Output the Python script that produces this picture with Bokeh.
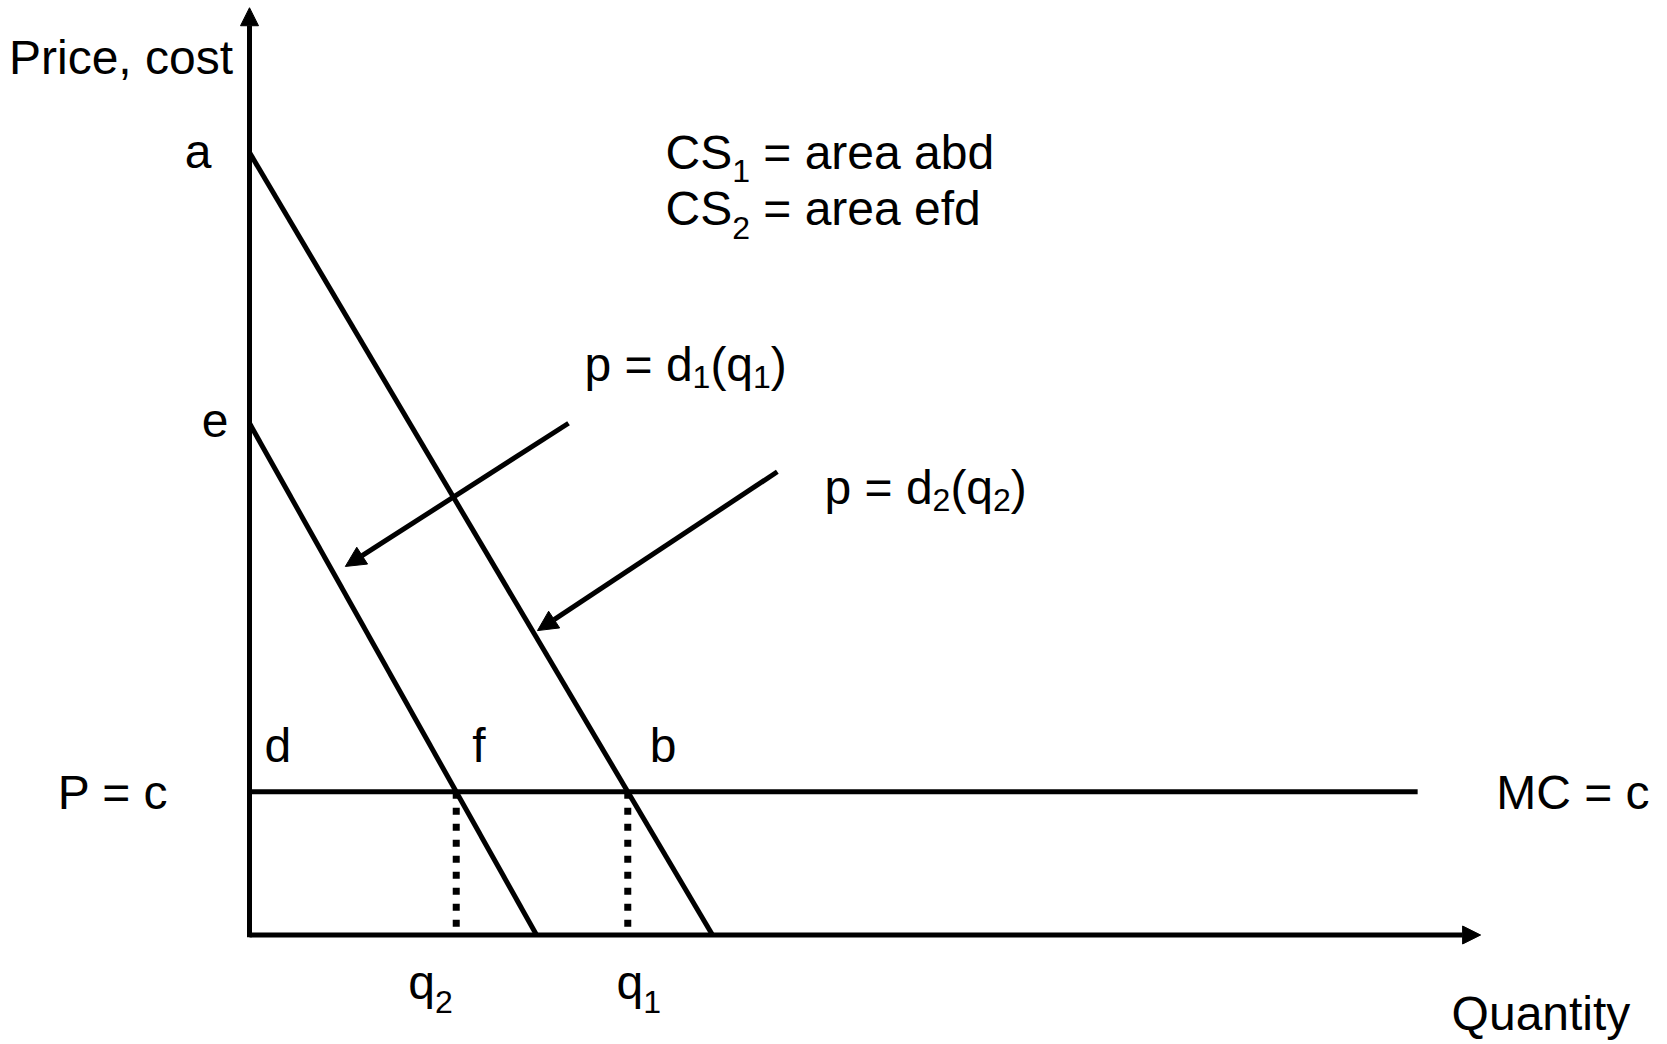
from bokeh.plotting import figure
from bokeh.models import Range1d, Arrow, NormalHead
from bokeh.embed import file_html
from bokeh.resources import INLINE
from bokeh.core.properties import value

# ---------------- data ----------------
choke_prices = [10.0, 6.54]        # a (demand 1), e (demand 2)
max_quantities = [10.0, 6.2]       # quantity intercepts of demand 1 and demand 2
marginal_cost = 1.83               # P = MC = c
mc_line_end = 25.23                # where the MC line stops
axis_ends = [26.59, 11.85]         # quantity axis end, price axis end
pointer_starts_x = [6.89, 11.40]
pointer_starts_y = [6.54, 5.92]
pointer_ends_x = [2.07, 6.22]
pointer_ends_y = [4.71, 3.89]

# equilibrium quantities where each demand meets MC
q_star = [qm * (1 - marginal_cost / pm) for qm, pm in zip(max_quantities, choke_prices)]
q1_star, q2_star = q_star

# ---------------- layout ----------------
W, H = 1667, 1044
PX_Q, PX_P = 46.3, 78.25
ORIGIN_FX, ORIGIN_FY = 249.0, 934.5
x0 = -ORIGIN_FX / PX_Q
y1 = ORIGIN_FY / PX_P

p = figure(width=W, height=H, output_backend="svg", toolbar_location=None,
           x_range=Range1d(x0, x0 + W / PX_Q), y_range=Range1d(y1 - H / PX_P, y1),
           x_axis_location=None, y_axis_location=None, min_border=0)
p.outline_line_color = None
p.grid.grid_line_color = None
p.background_fill_color = "white"
p.border_fill_color = "white"

FONT = "Liberation Sans"
BIG, SMALL = 48, 32
BASELINE_FIX = -15.0 / 48.0   # per pixel of font size
ADV = {' ': 278, '(': 333, ')': 333, ',': 278, '=': 584, 'C': 722, 'M': 833, 'P': 667,
       'Q': 778, 'S': 667, 'a': 556, 'b': 556, 'c': 500, 'd': 556, 'e': 556, 'f': 278,
       'i': 222, 'n': 556, 'o': 556, 'p': 556, 'q': 556, 'r': 333, 's': 500, 't': 278,
       'u': 556, 'y': 500, '1': 556, '2': 556}


def width(s, size):
    return sum(ADV.get(ch, 556) for ch in s) * size / 1000.0


def rich(x, y, segments, xoff=0.0, yoff=0.0, align="left", sub_drop=14):
    if align == "right":
        total = sum(width(t, SMALL if sub else BIG) for t, sub in segments)
        xoff -= total
    cur = xoff
    for t, sub in segments:
        size = SMALL if sub else BIG
        lead = len(t) - len(t.lstrip(" "))
        shown = t.strip(" ")
        p.text(x=[x], y=[y], text=[shown], text_font=value(FONT),
               text_font_size=value(f"{size}px"), text_color="black",
               text_align="left", text_baseline="alphabetic",
               x_offset=cur + width(" " * lead, size),
               y_offset=yoff + BASELINE_FIX * size + (sub_drop if sub else 0))
        cur += width(t, size)


# ---------------- lines ----------------
p.line([0, max_quantities[0]], [choke_prices[0], 0], line_width=5, line_color="black")
p.line([0, max_quantities[1]], [choke_prices[1], 0], line_width=5, line_color="black")
p.line([0, mc_line_end], [marginal_cost, marginal_cost], line_width=5, line_color="black")
for q in q_star:
    p.line([q, q], [marginal_cost, 0], line_width=7, line_color="black",
           line_dash="7 9", line_cap="butt")

# axes with arrow heads
p.add_layout(Arrow(end=NormalHead(size=18, fill_color="black", line_color="black"),
                   x_start=0, y_start=0, x_end=axis_ends[0], y_end=0,
                   line_width=5, line_color="black"))
p.add_layout(Arrow(end=NormalHead(size=18, fill_color="black", line_color="black"),
                   x_start=0, y_start=-0.03, x_end=0, y_end=axis_ends[1],
                   line_width=5, line_color="black"))
# pointer arrows
for xs, ys, xe, ye in zip(pointer_starts_x, pointer_starts_y, pointer_ends_x, pointer_ends_y):
    p.add_layout(Arrow(end=NormalHead(size=20, fill_color="black", line_color="black"),
                       x_start=xs, y_start=ys, x_end=xe, y_end=ye,
                       line_width=5, line_color="black"))

# ---------------- texts ----------------
# free texts are anchored at the frame's top-left corner (offsets in pixels)
rich(x0, y1, [("Price, cost", False)], xoff=8.5, yoff=72)
rich(x0, y1, [("CS", False), ("1", True), (" = area abd", False)], xoff=665, yoff=167, sub_drop=13)
rich(x0, y1, [("CS", False), ("2", True), (" = area efd", False)], xoff=665, yoff=223, sub_drop=14)
rich(x0, y1, [("p = d", False), ("1", True), ("(q", False), ("1", True), (")", False)],
     xoff=584, yoff=379, sub_drop=7)
rich(x0, y1, [("p = d", False), ("2", True), ("(q", False), ("2", True), (")", False)],
     xoff=824, yoff=502, sub_drop=7)

# texts tied to the model's values
rich(0, choke_prices[0], [("a", False)], xoff=-38, yoff=14, align="right")
rich(0, choke_prices[1], [("e", False)], xoff=-21, yoff=12, align="right")
rich(0, marginal_cost, [("P = c", False)], xoff=-81, yoff=16, align="right")
rich(mc_line_end, marginal_cost, [("MC = c", False)], xoff=78.5, yoff=16)
rich(0, marginal_cost, [("d", False)], xoff=15, yoff=-31)
rich(q2_star, marginal_cost, [("f", False)], xoff=16, yoff=-31)
rich(q1_star, marginal_cost, [("b", False)], xoff=22, yoff=-31)
rich(q2_star, 0, [("q", False), ("2", True)], xoff=-48, yoff=62.5)
rich(q1_star, 0, [("q", False), ("1", True)], xoff=-11.3, yoff=62.5)
rich(axis_ends[0], 0, [("Quantity", False)], xoff=-29, yoff=93)

open("out.html", "w").write(file_html(p, INLINE))
